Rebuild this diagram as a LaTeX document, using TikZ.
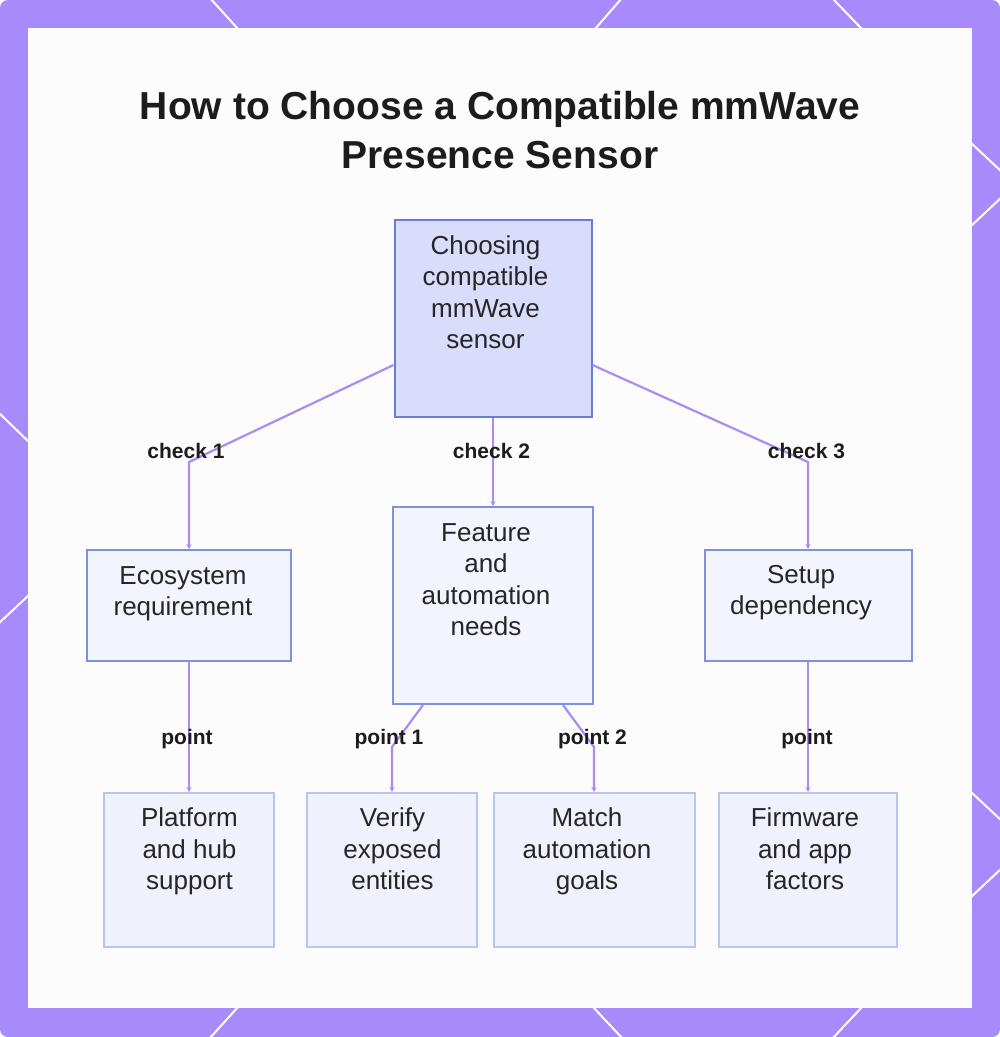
\documentclass[tikz,border=0pt]{standalone}
\usepackage{fontspec}
\setmainfont{Liberation Sans}
\usetikzlibrary{arrows.meta}
\definecolor{framec}{HTML}{A78BFA}
\definecolor{panelc}{HTML}{FCFCFC}
\definecolor{connc}{HTML}{A98DF0}
\definecolor{rootfill}{HTML}{D9DCFB}
\definecolor{rootdraw}{HTML}{6B7CD4}
\definecolor{midfill}{HTML}{F3F5FE}
\definecolor{middraw}{HTML}{7D90E2}
\definecolor{leaffill}{HTML}{EFF2FD}
\definecolor{leafdraw}{HTML}{B8C5F4}
\definecolor{ink}{HTML}{262626}
\definecolor{lblink}{HTML}{1C1C1C}
\begin{document}
\begin{tikzpicture}[x=1pt,y=-1pt,
  boxbase/.style={rectangle, inner sep=0pt, line width=2pt},
  rootbox/.style={boxbase, fill=rootfill, draw=rootdraw},
  midbox/.style={boxbase, fill=midfill, draw=middraw},
  leafbox/.style={boxbase, fill=leaffill, draw=leafdraw},
  txt/.style={anchor=north, inner sep=0pt, align=center, text=ink, font=\fontsize{26}{31.5}\selectfont},
  lbl/.style={anchor=base, inner sep=0pt, text=lblink, font=\bfseries\fontsize{21}{25}\selectfont},
  ttl/.style={anchor=base, inner sep=0pt, text=lblink, font=\bfseries\fontsize{39}{49}\selectfont},
  conn/.style={draw=connc, line width=2.2pt, line join=round, -{Stealth[length=5pt,width=5pt]}},
  deco/.style={draw=white, line width=2pt}
]
\useasboundingbox (0,0) rectangle (1000,1037);
\fill[white] (0,0) rectangle (1000,1037);
\fill[framec, rounded corners=8pt] (0,0) rectangle (1000,1037);
% decorative diagonal lines in the frame
\draw[deco] (210,-2) -- (238,29);
\draw[deco] (622,-2) -- (595,29);
\draw[deco] (832,-2) -- (862,29);
\draw[deco] (238,1007) -- (209,1039);
\draw[deco] (593,1007) -- (623,1039);
\draw[deco] (862,1007) -- (832,1039);
\draw[deco] (-2,412) -- (29,442);
\draw[deco] (29,595) -- (-2,624);
\draw[deco] (971,143) -- (1002,172);
\draw[deco] (971,226) -- (1002,197);
\draw[deco] (971,792) -- (1002,821);
\draw[deco] (971,897) -- (1002,868);
% inner panel
\fill[panelc] (28,28) rectangle (972,1008);

% title
\node[ttl] (title1) at (500,119) {How to Choose a Compatible mmWave};
\node[ttl] (title2) at (500,168) {Presence Sensor};

% boxes
\node[rootbox, minimum width=197pt, minimum height=197pt] (root) at (493,318.5) {};
\node[midbox, minimum width=204pt, minimum height=111pt] (eco) at (189,605.5) {};
\node[midbox, minimum width=200pt, minimum height=197pt] (feat) at (493,605.5) {};
\node[midbox, minimum width=207pt, minimum height=111pt] (setup) at (808,605.5) {};
\node[leafbox, minimum width=170pt, minimum height=154pt] (plat) at (189,870) {};
\node[leafbox, minimum width=170pt, minimum height=154pt] (verify) at (392,870) {};
\node[leafbox, minimum width=201pt, minimum height=154pt] (match) at (594,870) {};
\node[leafbox, minimum width=178pt, minimum height=154pt] (firm) at (808,870) {};

% box texts
\node[txt] (rootT) at (485.5,232) {\strut Choosing\\compatible\\mmWave\\sensor};
\node[txt] (ecoT) at (183,562) {\strut Ecosystem\\requirement};
\node[txt] (featT) at (486,519) {\strut Feature\\and\\automation\\needs};
\node[txt] (setupT) at (801,561) {\strut Setup\\dependency};
\node[txt] (platT) at (189.5,804.5) {\strut Platform\\and hub\\support};
\node[txt] (verifyT) at (392.5,804.5) {\strut Verify\\exposed\\entities};
\node[txt] (matchT) at (587,804.5) {\strut Match\\automation\\goals};
\node[txt] (firmT) at (805,804.5) {\strut Firmware\\and app\\factors};

% bend points
\coordinate (k1) at (189,462);
\coordinate (k3) at (808,462);
\coordinate (k4) at (392,747);
\coordinate (k5) at (594,747);

% connectors
\draw[conn] ([yshift=-46.5pt]root.west) -- (k1) -- (eco.north);
\draw[conn] (root.south) -- (feat.north);
\draw[conn] ([yshift=-46.5pt]root.east) -- (k3) -- (setup.north);
\draw[conn] (eco.south) -- (plat.north);
\draw[conn] ([xshift=-70pt]feat.south) -- (k4) -- (verify.north);
\draw[conn] ([xshift=70pt]feat.south) -- (k5) -- (match.north);
\draw[conn] (setup.south) -- (firm.north);

% labels
\node[lbl] (c1) at (186,458) {check 1};
\node[lbl] (c2) at (491.5,458) {check 2};
\node[lbl] (c3) at (806.5,458) {check 3};
\node[lbl] (p0) at (187,744) {point};
\node[lbl] (p1) at (389,744) {point 1};
\node[lbl] (p2) at (592.5,744) {point 2};
\node[lbl] (p3) at (807,744) {point};
\end{tikzpicture}
\end{document}
